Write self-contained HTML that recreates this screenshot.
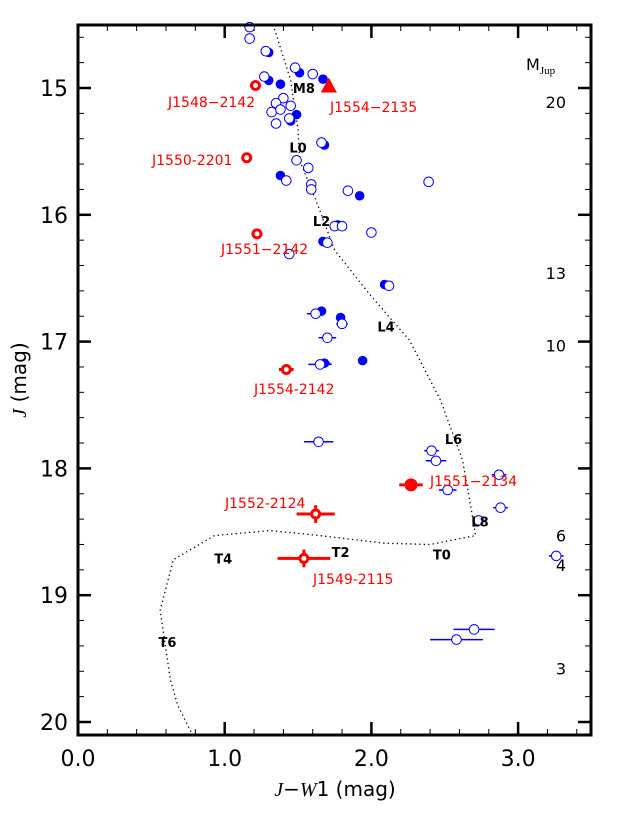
<!DOCTYPE html>
<html><head><meta charset="utf-8"><style>
body{margin:0;background:#fff;}
svg{display:block;font-family:"DejaVu Sans","Liberation Sans",sans-serif;}
</style></head><body>
<svg id="chart" width="617" height="817" viewBox="0 0 617 817" xmlns="http://www.w3.org/2000/svg">
<g id="ticks"></g><g id="track"></g><g id="marks"></g><g id="labels"></g>
<rect x="78" y="25" width="513" height="710" fill="none" stroke="#000" stroke-width="3"/>
<text x="335" y="796" font-size="20" text-anchor="middle"><tspan font-family="Liberation Serif,serif" font-style="italic">J</tspan>−<tspan font-family="Liberation Serif,serif" font-style="italic">W</tspan>1 (mag)</text>
<text transform="translate(26,380) rotate(-90)" font-size="20" text-anchor="middle"><tspan font-family="Liberation Serif,serif" font-style="italic">J</tspan> (mag)</text>
<text x="526" y="70" font-size="16">M<tspan font-family="Liberation Serif,serif" font-size="11" dy="4">Jup</tspan></text>
</svg>
<script>
const xTicks=[0,1,2,3];
const xTickLabels=["0.0","1.0","2.0","3.0"];
const yTicks=[15,16,17,18,19,20];
const yTickLabels=["15","16","17","18","19","20"];
const openX=[1.17,1.17,1.28,1.27,1.48,1.60,1.40,1.35,1.45,1.32,1.38,1.44,1.35,1.66,1.49,1.57,1.42,1.59,1.59,1.84,2.39,1.75,1.80,1.70,2.00,1.44,2.12,1.62,1.80,1.70,1.65,1.64,2.41,2.44,2.52,2.87,2.88,2.73,3.26,2.58,2.70];
const openY=[14.52,14.61,14.71,14.91,14.84,14.89,15.08,15.12,15.14,15.19,15.17,15.24,15.28,15.43,15.57,15.63,15.73,15.76,15.80,15.81,15.74,16.09,16.09,16.22,16.14,16.31,16.56,16.78,16.86,16.97,17.18,17.79,17.86,17.94,18.17,18.05,18.31,18.41,18.69,19.35,19.27];
const openXerr=[0,0,0,0,0,0,0,0,0,0,0,0,0,0,0,0,0,0,0,0,0,0,0,0,0,0,0,0.06,0.04,0.06,0.08,0.10,0.05,0.07,0.06,0.05,0.05,0.04,0.05,0.18,0.14];
const openYerr=[0,0,0,0,0,0,0,0,0,0,0,0,0,0,0,0,0,0,0,0,0,0,0,0,0,0,0,0,0,0,0,0,0,0,0,0,0,0,0,0.04,0.04];
const fillX=[1.30,1.30,1.51,1.38,1.67,1.49,1.45,1.68,1.38,1.92,1.77,1.67,2.09,1.66,1.79,1.68,1.94];
const fillY=[14.72,14.94,14.88,14.97,14.93,15.21,15.26,15.45,15.69,15.85,16.08,16.21,16.55,16.76,16.81,17.17,17.15];
const fillXerr=[0,0,0,0,0,0,0,0,0,0,0,0,0,0.03,0.03,0.04,0.03];
const redNames=["J1548−2142","J1550-2201","J1551−2142","J1554-2142","J1552-2124","J1549-2115","J1551−2134"];
const redX=[1.21,1.15,1.22,1.42,1.62,1.54,2.27];
const redY=[14.98,15.55,16.15,17.22,18.36,18.71,18.13];
const redXerr=[0,0,0,0.05,0.13,0.18,0.08];
const redYerr=[0,0,0,0,0.07,0.07,0];
const redFilled=[0,0,0,0,0,0,1];
const redLabelX=[168,152,221,254,225,313,430];
const redLabelY=[107,165,254,394,508,584,486];
const triX=[1.71];const triY=[14.98];const triName=["J1554−2135"];
const trackX=[1.33,1.45,1.50,1.51,1.62,1.75,1.99,2.26,2.47,2.62,2.67,2.71,2.62,2.40,2.09,1.65,1.31,0.93,0.65,0.56,0.63,0.68,0.78];
const trackY=[14.50,14.94,15.33,15.57,15.88,16.28,16.63,16.99,17.46,17.93,18.25,18.53,18.55,18.60,18.59,18.53,18.49,18.53,18.72,19.12,19.67,19.87,20.10];
const sptNames=["M8","L0","L2","L4","L6","L8","T0","T2","T4","T6"];
const sptX=[1.54,1.50,1.66,2.10,2.56,2.74,2.48,1.79,0.99,0.61];
const sptY=[15.0,15.47,16.05,16.88,17.77,18.42,18.68,18.66,18.71,19.37];
const massLabels=["20","13","10","6","4","3"];
const massY=[15.11,16.46,17.03,18.53,18.76,19.58];

const X=v=>78+146.7*v, Y=m=>88+126.8*(m-15);
const NS="http://www.w3.org/2000/svg";
function mk(tag,parent,attrs){const e=document.createElementNS(NS,tag);for(const k in attrs)e.setAttribute(k,attrs[k]);document.getElementById(parent).appendChild(e);return e;}
for(let v=0;v<=3.5001;v+=0.2){const major=xTicks.some(t=>Math.abs(t-v)<1e-6);const L=major?13:6;
 for(const [y0,d] of [[735,-1],[25,1]]){const t=mk('line','ticks',{x1:X(v),x2:X(v),y1:y0,y2:y0+d*L,stroke:'#000','stroke-width':major?2.5:1});
 
 }}
for(let m=14.6;m<=20.1001;m+=0.2){const major=yTicks.some(t=>Math.abs(t-m)<1e-6);const L=major?13:6;
 for(const [x0,d] of [[78,1],[591,-1]]){const t=mk('line','ticks',{x1:x0,x2:x0+d*L,y1:Y(m),y2:Y(m),stroke:'#000','stroke-width':major?2.5:1});
 
 }}
xTicks.forEach((v,i)=>{const t=mk('text','labels',{x:X(v),y:766,'font-size':22,'text-anchor':'middle'});t.textContent=xTickLabels[i];
 
 });
yTicks.forEach((m,i)=>{const t=mk('text','labels',{x:68,y:Y(m)+8,'font-size':22,'text-anchor':'end'});t.textContent=yTickLabels[i];
 
 });
const tr=mk('polyline','track',{points:trackX.map((v,i)=>X(v)+','+Y(trackY[i])).join(' '),fill:'none',stroke:'#000','stroke-width':1.3,'stroke-dasharray':'1.3,3.2'});


function errbar(x,y,xe,ye,col,w){
 if(xe>0){const l=mk('line','marks',{x1:X(x-xe),x2:X(x+xe),y1:Y(y),y2:Y(y),stroke:col,'stroke-width':w});
  
  }
 if(ye>0){const l=mk('line','marks',{x1:X(x),x2:X(x),y1:Y(y-ye),y2:Y(y+ye),stroke:col,'stroke-width':w});
  
  }}
fillX.forEach((v,i)=>{errbar(v,fillY[i],fillXerr[i],0,'#00f',1.5);
 const c=mk('circle','marks',{cx:X(v),cy:Y(fillY[i]),r:4.8,fill:'#00f'});
 
 });
openX.forEach((v,i)=>{errbar(v,openY[i],openXerr[i],openYerr[i],'#00f',1.5);
 const c=mk('circle','marks',{cx:X(v),cy:Y(openY[i]),r:4.8,fill:'#fff',stroke:'#00f','stroke-width':1});
 
 });
redX.forEach((v,i)=>{errbar(v,redY[i],redXerr[i],redYerr[i],'#f00',3);
 const c=redFilled[i]?mk('circle','marks',{cx:X(v),cy:Y(redY[i]),r:6.5,fill:'#f00'}):mk('circle','marks',{cx:X(v),cy:Y(redY[i]),r:4,fill:'#fff',stroke:'#f00','stroke-width':3});
 
 
 const t=mk('text','labels',{x:redLabelX[i],y:redLabelY[i],'font-size':14,fill:'#f00'});t.textContent=redNames[i];
 
 });
triX.forEach((v,i)=>{const cx=X(v),cy=Y(triY[i]);
 const p=mk('polygon','marks',{points:`${cx-8},${cy+7} ${cx+8},${cy+7} ${cx},${cy-8}`,fill:'#f00'});
 
 
 const t=mk('text','labels',{x:330,y:112,'font-size':14,fill:'#f00'});t.textContent=triName[i];
 
 });
sptNames.forEach((s,i)=>{const t=mk('text','labels',{x:X(sptX[i]),y:Y(sptY[i])+5,'font-size':13,'font-weight':'bold','text-anchor':'middle'});t.textContent=s;
 
 });
massLabels.forEach((s,i)=>{const t=mk('text','labels',{x:566,y:Y(massY[i])+6,'font-size':16,'text-anchor':'end'});t.textContent=s;
 
 });
</script>
</body></html>
